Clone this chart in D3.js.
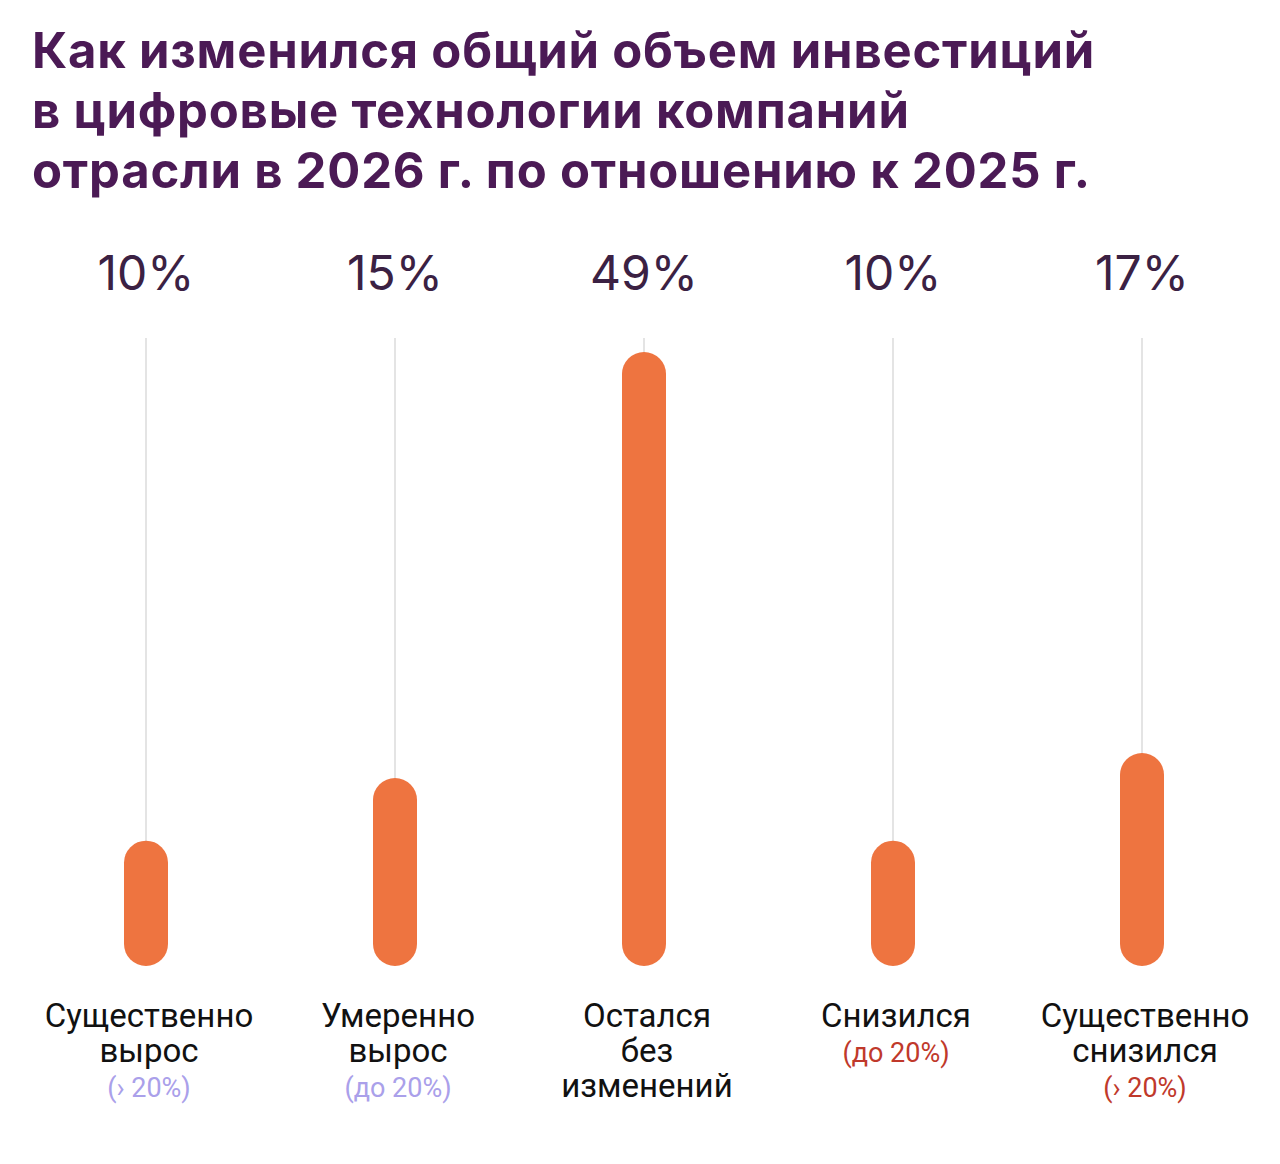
<!DOCTYPE html><html><head><meta charset="utf-8"><script src="https://cdn.jsdelivr.net/npm/d3@7"></script>
<style>body{margin:0;background:#fff}</style></head><body><svg id="c" width="1280" height="1164"></svg>
<script>
const titleLines=["Как изменился общий объем инвестиций","в цифровые технологии компаний","отрасли в 2026 г. по отношению к 2025 г."];
const categories=[["Существенно","вырос"],["Умеренно","вырос"],["Остался","без","изменений"],["Снизился"],["Существенно","снизился"]];
const notes=["(› 20%)","(до 20%)","","(до 20%)","(› 20%)"];
const noteColors=["#aaa0ea","#aaa0ea","","#c0392b","#c0392b"];
const values=[10,15,49,10,17];
const svg=d3.select("#c");
svg.selectAll(".t").data(titleLines).join("text").attr("x",32).attr("y",68).attr("dy",(d,i)=>i*60)
 .attr("font-family","Inter,Roboto,sans-serif").attr("font-weight",700).attr("font-size",49).attr("letter-spacing",0.8).attr("fill","#4b1a55").text(d=>d);
const x=d3.scalePoint().domain(d3.range(values.length)).range([146,1142]);
const y=d3.scaleLinear().domain([0,49]).range([966,352]);
const bw=44;
const g=svg.selectAll(".b").data(values).join("g");
g.append("line").attr("x1",(d,i)=>x(i)).attr("x2",(d,i)=>x(i)).attr("y1",338).attr("y2",944).attr("stroke","#e4e4e4").attr("stroke-width",2);
g.append("rect").attr("x",(d,i)=>x(i)-bw/2).attr("width",bw).attr("y",d=>y(d)).attr("height",d=>y(0)-y(d)).attr("rx",bw/2).attr("fill","#ee7440");
g.append("text").attr("x",(d,i)=>x(i)).attr("y",290).attr("text-anchor","middle").attr("font-family","Inter,Roboto,sans-serif").attr("font-size",48).attr("fill","#3b2143").text(d=>d+"%");
categories.forEach((c,i)=>{
  const t=svg.append("text").attr("x",x(i)+3).attr("text-anchor","middle").attr("font-family","Roboto,sans-serif").attr("font-size",33);
  c.forEach((l,j)=>t.append("tspan").attr("x",x(i)+3).attr("y",1027+j*35).attr("fill","#111").text(l));
  if(notes[i]) t.append("tspan").attr("x",x(i)+3).attr("y",1027+c.length*35).attr("fill",noteColors[i]).attr("font-size",27).text(notes[i]);
});
</script></body></html>
